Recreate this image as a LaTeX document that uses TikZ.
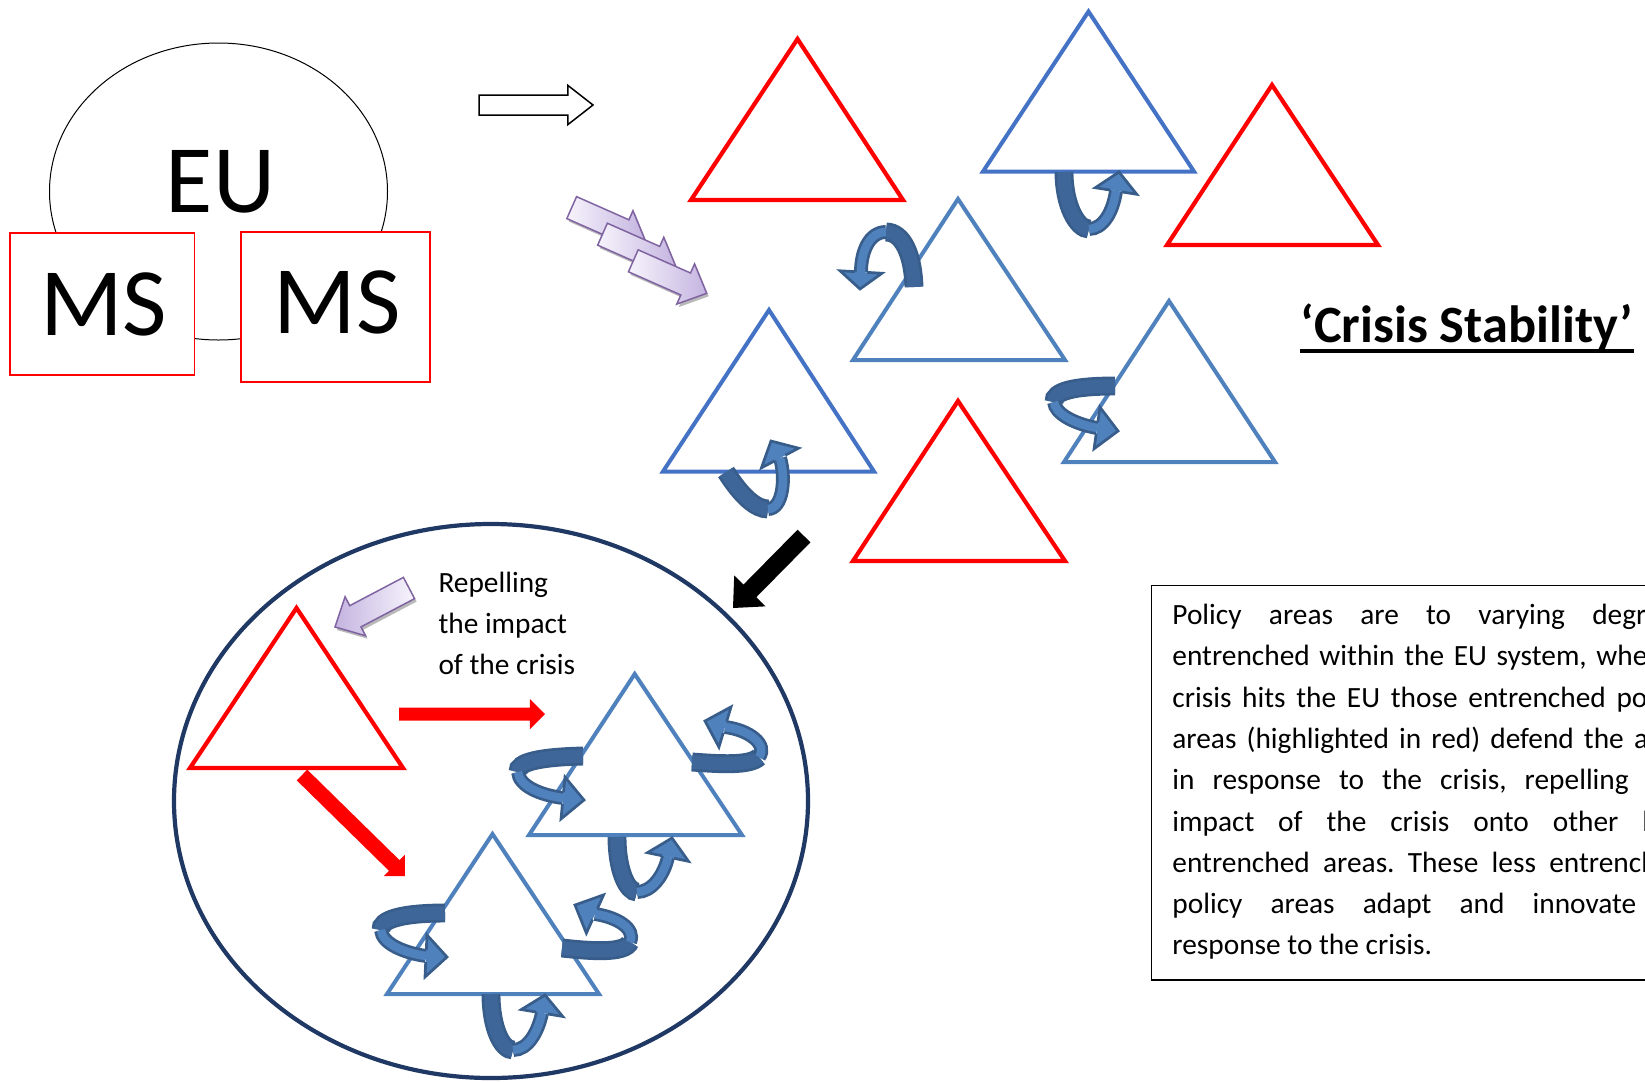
\documentclass[tikz,border=0pt]{standalone}
\usepackage{fontspec}
\setmainfont{Carlito}
\usetikzlibrary{calc}
\tolerance=10000 \hbadness=10000 \hfuzz=20pt
\frenchspacing
\definecolor{trired}{RGB}{255,0,0}
\definecolor{blueA}{RGB}{68,114,196}
\definecolor{blueB}{RGB}{79,129,189}
\definecolor{curlout}{RGB}{56,93,138}
\definecolor{curldark}{RGB}{62,102,152}
\definecolor{curllight}{RGB}{79,129,189}
\definecolor{navy}{RGB}{32,56,100}
\definecolor{plight}{RGB}{247,244,252}
\definecolor{pdark}{RGB}{196,180,224}
\definecolor{pline}{RGB}{128,100,162}
\newcommand\blockarrow[6]{%
  \path (#2) coordinate (baT) (#3) coordinate (baP);
  \path ($(baP)!#6!(baT)$) coordinate (baH);
  \path[#1] ($(baT)!#4!90:(baP)$) -- ($(baH)!#4!90:(baP)$) -- ($(baH)!#5!90:(baP)$) -- (baP)
    -- ($(baH)!#5!-90:(baP)$) -- ($(baH)!#4!-90:(baP)$) -- ($(baT)!#4!-90:(baP)$) -- cycle;}
\newcommand\purplearrow[5]{%
  \blockarrow{fill=gray!55, draw=none}{#1+2,#2+3}{#3+2,#4+3}{0.12cm}{0.22cm}{0.23cm}
  \blockarrow{draw=pline, line width=0.015cm, line join=miter, #5}{#1,#2}{#3,#4}{0.12cm}{0.22cm}{0.23cm}}
\newcommand\curlhead[3][0.06cm]{%
  \fill[curllight] ($(#2)!0.21cm!90:(#3)$) -- (#3) -- ($(#2)!0.21cm!-90:(#3)$) -- cycle;
  \draw[curlline, line join=miter] ($(#2)!#1!90:(#3)$) -- ($(#2)!0.21cm!90:(#3)$) -- (#3)
    -- ($(#2)!0.21cm!-90:(#3)$) -- ($(#2)!#1!-90:(#3)$);}
\tikzset{
  redtri/.style={draw=trired, line width=0.042cm, line join=miter},
  bluetriA/.style={draw=blueA, line width=0.04cm, line join=miter},
  bluetriB/.style={draw=blueB, line width=0.04cm, line join=miter},
  curlline/.style={draw=curlout, line width=0.027cm},
  curlback/.style={curlline, double=curldark, double distance=0.135cm},
  curlfront/.style={curlline, double=curllight, double distance=0.085cm},
  msbox/.style={draw=trired, line width=0.018cm, fill=white},
  bigtext/.style={font=\fontsize{27.5}{30}\selectfont, anchor=base, inner sep=0pt},
  smalltext/.style={font=\fontsize{8.35}{11.6}\selectfont, inner sep=0pt},
}
\begin{document}
\begin{tikzpicture}[x=0.01cm, y=-0.01cm]
\useasboundingbox (0,0) rectangle (1645,1081);
\clip (0,0) rectangle (1645,1081);

% EU and member states
\draw[line width=0.01cm] (218.5,191.5) ellipse [x radius=169, y radius=148.5];
\node[bigtext] (eu) at (220.5,212) {EU};
\draw[msbox] (10,233) rectangle (194.5,375);
\draw[msbox] (241,232) rectangle (430,382);
\node[bigtext] (ms1) at (103.8,335) {MS};
\node[bigtext] (ms2) at (337,333.3) {MS};

% hollow arrow
\blockarrow{draw=black, fill=white, line width=0.015cm, line join=miter}{479,105}{593,105}{0.10cm}{0.195cm}{0.25cm}

% purple crisis arrows
\foreach \k in {0,1,2} {
  \purplearrow{571.7+30.8*\k}{207.6+26.6*\k}{645.1+30.8*\k}{240.1+26.6*\k}{left color=plight, right color=pdark}
}

% triangles (upper group)
\draw[redtri] (797.5,39) -- (691,200) -- (903,200) -- cycle;
\draw[bluetriA] (1088.5,11.5) -- (983,171.5) -- (1194,171.5) -- cycle;
\draw[redtri] (1272,85) -- (1167,245) -- (1378,245) -- cycle;
\draw[bluetriB] (958,199) -- (853,360) -- (1065,360) -- cycle;
\draw[bluetriA] (769,310) -- (663,471.5) -- (874,471.5) -- cycle;
\draw[bluetriB] (1169,301) -- (1064,462) -- (1275,462) -- cycle;
\draw[redtri] (958,401) -- (853,561) -- (1065,561) -- cycle;

% curled arrows (upper group)
\draw[curlback] (1064,172) .. controls (1064,205) and (1077,229) .. (1089,229);
\draw[curlfront] (1089,229) .. controls (1103,229) and (1113,212) .. (1116,191);
\curlhead{1116,191}{1119,172}

\draw[curlback] (914,287) .. controls (913,255) and (903,232) .. (886,232);
\draw[curlfront] (886,232) .. controls (869,232) and (861,252) .. (861,272);
\curlhead{861,272}{860,289}

\draw[curlback] (1115,386) .. controls (1075,386) and (1053,391) .. (1054,402);
\draw[curlfront] (1054,402) .. controls (1055,414) and (1075,424) .. (1097,428);
\curlhead{1097,428}{1118,431}

\draw[curlback] (726,472) .. controls (742,497) and (756,509) .. (768,509);
\draw[curlfront] (768,509) .. controls (783,509) and (786,478) .. (780,458);
\curlhead{780,458}{771,441}

% title
\node[font=\fontsize{14.9}{18}\selectfont\bfseries, anchor=base west, inner sep=0pt] (title) at (1300,342) {‘Crisis Stability’};
\draw[line width=0.035cm] ([yshift=-0.09cm]title.base west) -- ([yshift=-0.09cm]title.base east);

% black arrow
\blockarrow{fill=black, draw=none}{804,536}{733,608}{0.09cm}{0.22cm}{0.24cm}

% zoomed circle
\draw[navy, line width=0.042cm] (491,801) ellipse [x radius=317, y radius=277];
\purplearrow{409}{588}{335}{627}{left color=pdark, right color=plight}
\node[smalltext, anchor=base west, align=left] (rep) at (437.8,674) {Repelling\\the impact\\of the crisis};

\draw[redtri] (296.5,608) -- (190,768) -- (403,768) -- cycle;
\draw[bluetriB] (634.7,674) -- (529,835) -- (742,835) -- cycle;
\draw[bluetriB] (492.5,834) -- (387,994) -- (599,994) -- cycle;

\blockarrow{fill=trired, draw=none}{399,714}{545,714}{0.065cm}{0.15cm}{0.15cm}
\blockarrow{fill=trired, draw=none}{302,775}{405,876}{0.075cm}{0.15cm}{0.15cm}

\draw[curlback] (583,756) .. controls (540,757) and (517,762) .. (518,772);
\draw[curlfront] (518,772) .. controls (519,786) and (540,795) .. (563,798);
\curlhead{563,798}{584,800}

\draw[curlback] (692,762) .. controls (720,764) and (750,766) .. (759,757);
\draw[curlfront] (759,757) .. controls (768,745) and (750,730) .. (725,727);
\curlhead{725,727}{705,721}

\draw[curlback] (617,837) .. controls (617,870) and (627,892) .. (637,892);
\draw[curlfront] (637,892) .. controls (652,892) and (664,875) .. (668,857);
\curlhead{668,857}{672,838}

\draw[curlback] (445,913) .. controls (400,913) and (380,920) .. (381,930);
\draw[curlfront] (381,930) .. controls (382,944) and (405,953) .. (426,956);
\curlhead{426,956}{447,957}

\draw[curlback] (562,948) .. controls (590,951) and (625,954) .. (630,942);
\draw[curlfront] (630,942) .. controls (636,928) and (616,917) .. (595,914);
\curlhead{595,914}{575,905}

\draw[curlback] (491,994) .. controls (491,1028) and (502,1050) .. (513,1050);
\draw[curlfront] (513,1050) .. controls (528,1050) and (538,1032) .. (542,1013);
\curlhead{542,1013}{545,995}

% explanation box
\draw[line width=0.015cm] (1151.7,585.3) rectangle (1715,980);
\node[font=\fontsize{8.35}{11.75}\selectfont, anchor=base west, inner sep=0pt, text width=5.14cm, align=justify] (para) at (1171.7,624.4)
{Policy areas are to varying degrees\linebreak
entrenched within the EU system, when a\linebreak
crisis hits the EU those entrenched policy\linebreak
areas (highlighted in red) defend the area\linebreak
in response to the crisis, repelling the\linebreak
impact of the crisis onto other less\linebreak
entrenched areas. These less entrenched\linebreak
policy areas adapt and innovate in\linebreak
response to the crisis.};
\end{tikzpicture}
\end{document}
